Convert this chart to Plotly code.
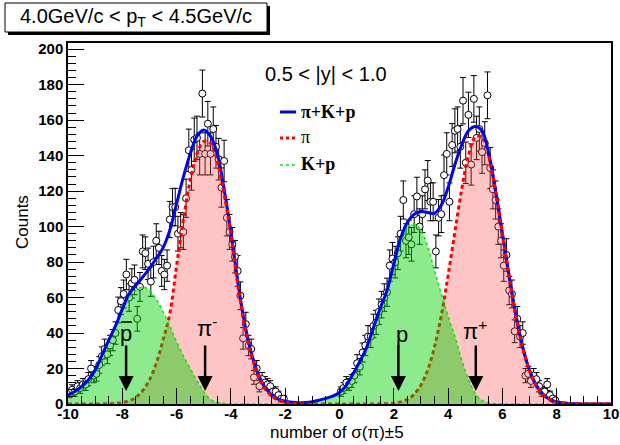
import numpy as np
import plotly.graph_objects as go

# ---------------- data ----------------
# histogram bin centres (bin width 0.1)
bins_left = np.round(np.linspace(-9.95, -2.05, 80), 2)
bins_right = np.round(np.linspace(0.05, 7.95, 80), 2)

counts_left = [6, 8, 7, 10, 9, 11, 11, 14, 20, 16,
               17, 22, 27, 31, 28, 33, 36, 40, 53, 58,
               62, 73, 60, 68, 70, 48, 66, 86, 85, 79,
               69, 80, 92, 88, 75, 73, 78, 104, 111, 111,
               96, 98, 97, 116, 143, 132, 149, 150, 141, 175,
               141, 158, 141, 155, 145, 138, 122, 137, 105, 97,
               90, 83, 75, 61, 37, 45, 33, 31, 15, 20,
               10, 14, 12, 11, 10, 7, 7, 5, 3, 3]
counts_right = [7, 9, 12, 11, 13, 16, 23, 21, 29, 33,
                38, 38, 44, 46, 52, 56, 60, 63, 78, 82,
                80, 85, 96, 115, 92, 94, 90, 107, 117, 100,
                107, 121, 126, 114, 114, 86, 105, 107, 129, 141,
                114, 146, 154, 155, 145, 171, 136, 163, 135, 172,
                150, 155, 142, 147, 174, 133, 121, 115, 100, 92,
                78, 84, 64, 62, 41, 48, 38, 40, 16, 17,
                13, 16, 14, 10, 7, 7, 11, 5, 3, 2]

# fit curves sampled every 0.25 from -10 to 10
curve_x = np.linspace(-10, 10, 81)
total_fit = [5, 7, 9.8, 13.5, 19, 27.5, 36, 44, 53.5, 62, 67, 71.5, 76.5, 82, 88, 98,
             113, 128, 141, 151, 154.5, 151, 141, 121, 97, 69.5, 46, 29, 17.2, 9.6, 5.2, 2.8,
             1.6, 1.0, 0.7, 0.8, 1.3, 2.2, 3.2, 4.4, 6.5, 10.5, 17, 24, 32, 43, 54, 64,
             79, 93.5, 102.5, 107, 108.5, 108, 107.5, 112, 122, 135, 146, 154, 156.5, 154, 141, 120,
             96, 72, 50, 32, 19, 10.5, 5.5, 2.6, 1.2, 0.5, 0.2, 0.1, 0, 0, 0, 0, 0]
pion_fit = [0, 0, 0, 0, 0, 0.1, 0.2, 0.3, 0.8, 1.8, 3.8, 7.5, 13.5, 23, 36, 51,
            78, 104, 126, 141, 148, 147, 137, 119, 96, 68, 45, 28, 16.5, 9, 4.6, 2.2,
            1.0, 0.4, 0.15, 0, 0, 0, 0, 0, 0, 0, 0, 0, 0, 0, 0, 0.2,
            0.5, 1.2, 2.6, 5.5, 10.7, 19.2, 32.3, 50, 72.5, 97, 121, 140, 150.5, 150.5, 139.5, 120,
            96, 71.5, 49.4, 31.6, 18.8, 10.4, 5.3, 2.5, 1.1, 0.5, 0.2, 0, 0, 0, 0, 0, 0]
kp_fit = [4.5, 6.5, 9.3, 13, 18.5, 27, 35.5, 43.5, 52.5, 60, 64, 66, 64, 59, 52, 44,
          35, 27, 20, 13, 7, 2.5, 1.0, 0.4, 0.1, 0, 0, 0, 0, 0, 0, 0,
          0, 0, 0, 0.3, 1.0, 2.0, 3.0, 4.3, 6.4, 10.4, 16.9, 23.9, 31.9, 42.9, 53.9, 63.8,
          78.5, 92.3, 99.9, 101.5, 97.8, 88.8, 75.2, 62, 49.5, 38, 25, 14, 6, 2, 0.6, 0.2,
          0, 0, 0, 0, 0, 0, 0, 0, 0, 0, 0, 0, 0, 0, 0, 0, 0]

x_tick_vals = [-10, -8, -6, -4, -2, 0, 2, 4, 6, 8, 10]
x_tick_text = ["-10", "-8", "-6", "-4", "-2", "0", "2", "4", "6", "8", "10"]
y_tick_vals = [0, 20, 40, 60, 80, 100, 120, 140, 160, 180, 200]

# ---------------- geometry helpers (pixel -> paper) ----------------
W, H = 620, 445
ML, MR, MT, MB = 68, 9, 43, 41
PW, PH = W - ML - MR, H - MT - MB


def px(xp):
    return (xp - ML) / PW


def py(yp):
    return (H - MB - yp) / PH


RED = "rgb(255,0,0)"
BLUE = "rgb(0,0,255)"
LIME = "rgb(0,235,0)"
SANS = "Liberation Sans"
SERIF = "Liberation Serif"

fig = go.Figure()

bins_all = np.concatenate([bins_left, bins_right])
counts_all = np.array(counts_left + counts_right, dtype=float)

# data points (drawn first, below the fills)
fig.add_trace(go.Scatter(
    x=bins_all, y=counts_all, mode="markers",
    marker=dict(symbol="circle", size=7, color="white",
                line=dict(color="black", width=1)),
    error_y=dict(type="sqrt", color="black", thickness=1, width=3),
    hoverinfo="skip"))

# pion fill
fig.add_trace(go.Scatter(
    x=curve_x, y=pion_fit, mode="lines", line=dict(width=0, shape="spline"),
    fill="tozeroy", fillcolor="rgba(255,70,70,0.32)", hoverinfo="skip"))
# pion line (under the K+p fill)
fig.add_trace(go.Scatter(
    x=curve_x, y=pion_fit, mode="lines",
    line=dict(color=RED, width=3, dash="4px,3px", shape="spline"), hoverinfo="skip"))
# K+p fill and dotted line
fig.add_trace(go.Scatter(
    x=curve_x, y=kp_fit, mode="lines",
    line=dict(color=LIME, width=1.5, dash="dot", shape="spline"),
    fill="tozeroy", fillcolor="rgba(0,210,0,0.45)", hoverinfo="skip"))
# total fit
fig.add_trace(go.Scatter(
    x=curve_x, y=total_fit, mode="lines",
    line=dict(color=BLUE, width=3, shape="spline"), hoverinfo="skip"))
# pion line again on top where there is no K+p component
kp_arr = np.array(kp_fit)
pion_top = [v if k < 1.5 else None for v, k in zip(pion_fit, kp_arr)]
fig.add_trace(go.Scatter(
    x=curve_x, y=pion_top, mode="lines",
    line=dict(color=RED, width=3, dash="4px,3px", shape="spline"), hoverinfo="skip"))

shapes = []
annotations = []


def label(x, y, text, font, **kw):
    d = dict(xref="paper", yref="paper", x=px(x), y=py(y), text=text,
             showarrow=False, xanchor="center", yanchor="middle", font=font)
    d.update(kw)
    annotations.append(d)


# title box with shadow
shapes.append(dict(type="rect", xref="paper", yref="paper",
                   x0=px(8), x1=px(270), y0=py(35), y1=py(6),
                   fillcolor="black", line=dict(width=0)))
shapes.append(dict(type="rect", xref="paper", yref="paper",
                   x0=px(5), x1=px(267), y0=py(32), y1=py(3),
                   fillcolor="white", line=dict(color="black", width=1)))
label(136, 17, "4.0GeV/c &lt; p<sub>T</sub> &lt; 4.5GeV/c",
      dict(family=SANS, size=20, color="black"))

# rapidity label
label(326, 74, "0.5 &lt; |y| &lt; 1.0", dict(family=SANS, size=20, color="black"))

# legend
shapes.append(dict(type="line", xref="paper", yref="paper",
                   x0=px(280), x1=px(296), y0=py(112), y1=py(112),
                   line=dict(color=BLUE, width=3)))
shapes.append(dict(type="line", xref="paper", yref="paper",
                   x0=px(280), x1=px(296), y0=py(138), y1=py(138),
                   line=dict(color=RED, width=3, dash="3px,3px")))
shapes.append(dict(type="line", xref="paper", yref="paper",
                   x0=px(280), x1=px(296), y0=py(165), y1=py(165),
                   line=dict(color=LIME, width=1.5, dash="dot")))
leg_font = dict(family=SERIF, size=18, color="black")
label(299, 112, "<b>π+K+p</b>", leg_font, xanchor="left")
label(299, 137, "π", leg_font, xanchor="left")
label(299, 164, "<b>K+p</b>", leg_font, xanchor="left")

# particle labels and arrows
label_font = dict(family=SANS, size=22, color="black")
particle_x = [-7.86, -4.95, 2.17, 5.02]
particle_txt = ["p", "π<sup>-</sup>", "p", "π<sup>+</sup>"]
label_px = [(126, 333), (207, 327), (402, 334), (475, 330)]
for xv, t, (lx, ly) in zip(particle_x, particle_txt, label_px):
    label(lx, ly, t, label_font)
    annotations.append(dict(xref="x", yref="paper", x=xv, y=py(391),
                            ax=0, ay=-47, text="", showarrow=True,
                            arrowhead=2, arrowsize=1.2, arrowwidth=2.5,
                            arrowcolor="black"))
# bar over the antiproton symbol
shapes.append(dict(type="line", xref="paper", yref="paper",
                   x0=px(121), x1=px(132), y0=py(322), y1=py(322),
                   line=dict(color="black", width=1.5)))

# axis titles
label(22, 222, "Counts", dict(family=SANS, size=17, color="black"), textangle=-90)
label(337, 433, "number of σ(π)±5", dict(family=SANS, size=17, color="black"))

tick_font = dict(family=SANS, size=15, color="black", weight="bold")
fig.update_layout(
    width=W, height=H,
    margin=dict(l=ML, r=MR, t=MT, b=MB, pad=0, autoexpand=False),
    paper_bgcolor="white", plot_bgcolor="white",
    showlegend=False,
    shapes=shapes, annotations=annotations,
    xaxis=dict(range=[-10, 10], tickvals=x_tick_vals, ticktext=x_tick_text,
               ticks="inside", ticklen=16, tickwidth=1, tickcolor="black",
               minor=dict(dtick=0.5, ticks="inside", ticklen=8, tickwidth=1, tickcolor="black"),
               showline=True, linecolor="black", linewidth=1.5, mirror=True,
               showgrid=False, zeroline=False, tickfont=tick_font, automargin=False,
               ticklabelstandoff=-5),
    yaxis=dict(range=[0, 203.5], tickvals=y_tick_vals,
               ticks="inside", ticklen=16, tickwidth=1, tickcolor="black",
               minor=dict(dtick=4, ticks="inside", ticklen=8, tickwidth=1, tickcolor="black"),
               showline=True, linecolor="black", linewidth=1.5, mirror=True,
               showgrid=False, zeroline=False, tickfont=tick_font, automargin=False),
)

fig.write_html("out.html")
